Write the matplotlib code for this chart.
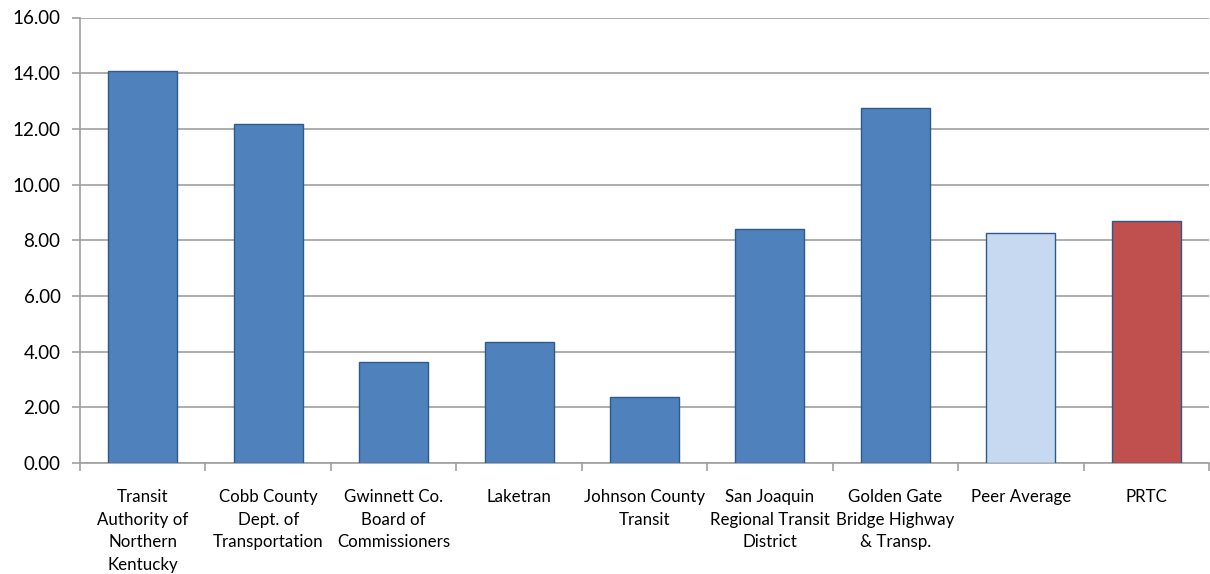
import matplotlib.pyplot as plt
import numpy as np

plt.rcParams['font.family'] = ['Lato', 'DejaVu Sans']

# data
agencies = ["Transit\nAuthority of\nNorthern\nKentucky", "Cobb County\nDept. of\nTransportation",
            "Gwinnett Co.\nBoard of\nCommissioners", "Laketran", "Johnson County\nTransit",
            "San Joaquin\nRegional Transit\nDistrict", "Golden Gate\nBridge Highway\n& Transp.",
            "Peer Average", "PRTC"]
values = [14.09, 12.18, 3.64, 4.35, 2.36, 8.42, 12.76, 8.26, 8.70]
bar_colors = ['#4f81bd'] * 7 + ['#c6d9f1', '#c0504d']

fig = plt.figure(figsize=(12.1, 5.74), dpi=100)
ax = fig.add_axes([80 / 1210, 1 - 463 / 574, 1129 / 1210, 445.5 / 574])

x = np.arange(len(values))
ax.bar(x, values, width=0.55, color=bar_colors, edgecolor='#2c5a8a', linewidth=1.0, zorder=3)

ax.set_xlim(-0.5, len(values) - 0.5)
ax.set_ylim(0, 16)
ax.set_yticks(np.arange(0, 17, 2))
ax.set_yticklabels([f"{v:.2f}" for v in np.arange(0, 17, 2)], fontsize=13.5)
ax.grid(axis='y', color='#a0a0a0', linewidth=1.2, zorder=0)

ax.set_xticks(x)
ax.set_xticklabels(agencies, fontsize=12.2, linespacing=1.5)
ax.set_xticks(np.arange(-0.5, len(values), 1), minor=True)
ax.tick_params(axis='x', which='major', length=0, pad=19)
ax.tick_params(axis='x', which='minor', length=6, color='#a0a0a0', width=1.2)
ax.tick_params(axis='y', length=6, color='#a0a0a0', width=1.2, pad=8)

for side in ['top', 'right']:
    ax.spines[side].set_visible(False)
for side in ['left', 'bottom']:
    ax.spines[side].set_color('#a0a0a0')
    ax.spines[side].set_linewidth(1.2)

fig.savefig('out.png', dpi=100)
